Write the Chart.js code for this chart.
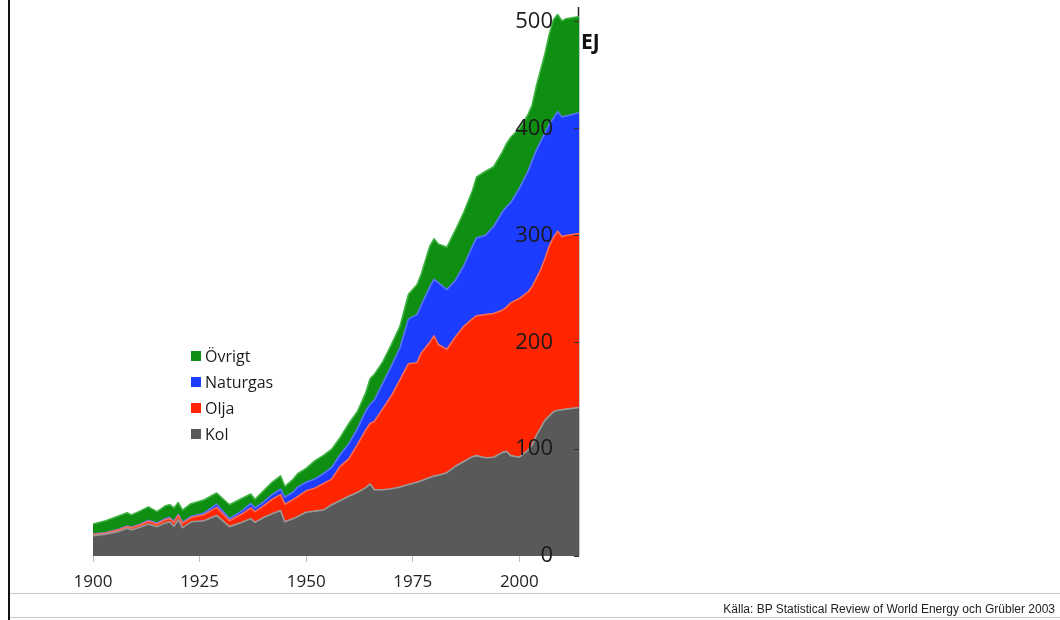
<!DOCTYPE html>
<html>
<head>
<meta charset="utf-8">
<title>Världens energitillförsel</title>
<script src="https://cdn.jsdelivr.net/npm/chart.js@4.4.1/dist/chart.umd.min.js"></script>
<style>
  html, body { margin: 0; padding: 0; background: #fff; }
  #wrap { position: relative; width: 1060px; height: 620px; overflow: hidden; background: #fff; }
  #c { position: absolute; left: 0; top: 0; }
  .vline { position: absolute; left: 8px; top: 0; width: 2px; height: 620px; background: #111; }
  .hline { position: absolute; left: 10px; right: 0; height: 1px; background: #c6c6c6; }
  #src { position: absolute; right: 5px; top: 602px; font: 12px "Liberation Sans", Arial, sans-serif; color: #222; white-space: nowrap; }
</style>
</head>
<body>
<div id="wrap">
  <canvas id="c" width="1060" height="620"></canvas>
  <div class="vline"></div>
  <div class="hline" style="top:593px"></div>
  <div class="hline" style="top:617px"></div>
  <div id="src">Källa: BP Statistical Review of World Energy och Grübler 2003</div>
</div>
<script>
// World primary energy supply by source, EJ
const years = [1900, 1903, 1906, 1908, 1909, 1911, 1913, 1915, 1917, 1918, 1919, 1920, 1921, 1923, 1926, 1929,
  1932, 1935, 1937, 1938, 1940, 1942, 1944, 1945, 1947, 1948, 1950, 1952, 1954, 1956, 1958, 1960,
  1962, 1964, 1965, 1966, 1968, 1970, 1972, 1974, 1976, 1977, 1979, 1980, 1981, 1983, 1985, 1987,
  1989, 1990, 1992, 1994, 1996, 1997, 1998, 2000, 2002, 2003, 2004, 2005, 2006, 2007, 2008, 2009,
  2010, 2011, 2014];

const kol = [19, 20.5, 23, 26, 24.5, 27, 30, 27.5, 31, 32, 28, 34, 26.5, 32, 33, 38,
  27.5, 31.5, 35, 31.5, 36, 39.5, 42.5, 32, 35, 37, 41, 42, 43, 48, 52, 56,
  59.5, 64, 67.5, 62, 62, 63, 64.5, 67, 69, 70.5, 73.5, 75, 75.5, 78, 84, 88.5,
  93, 94, 92, 92.5, 97, 98, 94, 92.5, 99, 104, 113, 120, 127, 131, 135, 136.5,
  137, 137.5, 139];

const olja = [1, 1, 1.5, 1.5, 2, 2, 2.5, 2.5, 3, 3, 3.5, 4, 4, 4, 5.5, 7.5,
  5.5, 8, 10, 10, 11, 13.5, 15, 16.5, 18, 18.5, 20, 21.5, 24.8, 24, 32, 35,
  44.5, 54, 56.5, 64, 76, 87, 100.5, 113, 112, 119.5, 126.5, 131, 122.5, 115.5, 121, 126.5,
  129, 131, 134, 134.5, 133, 135, 143, 148.5, 148, 148, 147, 148, 151, 159, 163, 167.5,
  162, 162.5, 163];

const naturgas = [0.5, 0.5, 0.5, 0.5, 0.5, 0.5, 1, 1, 1, 1, 1, 1, 1, 1, 1.5, 3,
  2, 3, 4, 3.5, 3.5, 4.5, 5, 6.5, 7, 9, 8, 8.5, 9.2, 11, 11, 14,
  15, 18, 18, 20, 24, 28, 30, 42, 45, 45, 52, 53, 58, 56, 53, 57,
  68, 73, 74, 81.5, 92, 94, 94, 103, 113, 118, 120, 120, 118, 114, 112, 112,
  112, 112, 113];

const ovrigt = [9.5, 11, 12.5, 12.5, 11.5, 12.5, 12.5, 10.5, 12, 12, 12.5, 11, 11.5, 12, 12.5, 10.5,
  13, 11.5, 9, 8, 10.5, 11.5, 12.5, 10, 12, 12.5, 13, 17, 17, 17, 16, 19,
  16, 17, 24, 24, 20, 20, 20, 23, 28, 29, 38, 38, 36, 39.5, 47, 50,
  52, 57, 60, 56, 56, 59, 61, 56, 53, 52, 60, 67, 74, 84, 92, 91,
  90, 91, 90];

const seriesNames = ['Kol', 'Olja', 'Naturgas', 'Övrigt'];
const xTicks = [1900, 1925, 1950, 1975, 2000];
const yTicks = [0, 100, 200, 300, 400, 500];
const yUnit = 'EJ';

const fills = ['#595959', '#ff2500', '#1c3cff', '#0f8f12'];
const edges = ['#9a9a9a', '#ff6a52', '#5a74ff', '#3fb343'];

const seriesValues = [kol, olja, naturgas, ovrigt];
const datasets = seriesValues.map((vals, i) => ({
  label: seriesNames[i],
  data: years.map((y, k) => ({ x: y, y: vals[k] })),
  backgroundColor: fills[i],
  borderColor: edges[i],
  borderWidth: 1.6,
  pointRadius: 0,
  tension: 0,
  fill: i === 0 ? 'origin' : '-1'
}));

// Value-axis line, painted underneath the stacked areas
const axisLineBehind = {
  id: 'axisLineBehind',
  beforeDatasetsDraw(chart) {
    const s = chart.scales.y;
    const ctx = chart.ctx;
    ctx.save();
    ctx.strokeStyle = '#222';
    ctx.lineWidth = 1.5;
    ctx.beginPath();
    ctx.moveTo(s.left - 0.5, chart.chartArea.top);
    ctx.lineTo(s.left - 0.5, chart.chartArea.bottom);
    ctx.stroke();
    ctx.restore();
  }
};

// Legend block drawn inside the plot, top entry = last series
const innerLegend = {
  id: 'innerLegend',
  afterDraw(chart) {
    const ctx = chart.ctx;
    ctx.save();
    ctx.font = '16px "Open Sans", sans-serif';
    ctx.textBaseline = 'middle';
    ctx.textAlign = 'left';
    const ds = chart.data.datasets.slice().reverse();
    ds.forEach((d, i) => {
      const cy = 356 + i * 26;
      ctx.fillStyle = d.backgroundColor;
      ctx.fillRect(191, cy - 5, 10, 10);
      ctx.fillStyle = '#1c1c1c';
      ctx.fillText(d.label, 205, cy + 1);
    });
    // unit label beside the value axis
    ctx.font = 'bold 21px "Open Sans", sans-serif';
    ctx.fillStyle = '#111';
    ctx.fillText(yUnit, 581, 43);
    ctx.restore();
  }
};

function noLabelPadding(s) {
  s.paddingTop = 0; s.paddingBottom = 0; s.paddingLeft = 0; s.paddingRight = 0;
}

new Chart(document.getElementById('c'), {
  type: 'line',
  data: { datasets },
  options: {
    responsive: false,
    devicePixelRatio: 1,
    animation: false,
    layout: { padding: { left: 93, top: 7, right: 475, bottom: 24 } },
    plugins: { legend: { display: false }, tooltip: { enabled: false } },
    elements: { line: { borderJoinStyle: 'round' } },
    scales: {
      x: {
        type: 'linear',
        position: 'bottom',
        min: 1900,
        max: 2014,
        afterFit(s) { s.height = 40; noLabelPadding(s); },
        afterBuildTicks(s) { s.ticks = xTicks.map(v => ({ value: v })); },
        grid: { drawOnChartArea: false, tickLength: 6, color: '#bdbdbd' },
        border: { display: false },
        ticks: {
          autoSkip: false, maxRotation: 0, padding: 10,
          color: '#222',
          font: { family: '"Open Sans", sans-serif', size: 17 },
          callback: v => String(v)
        }
      },
      y: {
        type: 'linear',
        position: 'right',
        stacked: true,
        min: 0,
        max: 514,
        afterFit(s) { s.width = 6; noLabelPadding(s); },
        afterBuildTicks(s) { s.ticks = yTicks.map(v => ({ value: v })); },
        grid: { drawOnChartArea: false, tickLength: -5, color: '#333', z: 1 },
        border: { display: false },
        ticks: {
          mirror: true, padding: -26, z: 1,
          color: '#1a1a1a',
          font: { family: '"Open Sans", sans-serif', size: 22 },
          callback: v => String(v)
        }
      }
    }
  },
  plugins: [axisLineBehind, innerLegend]
});
</script>
</body>
</html>
